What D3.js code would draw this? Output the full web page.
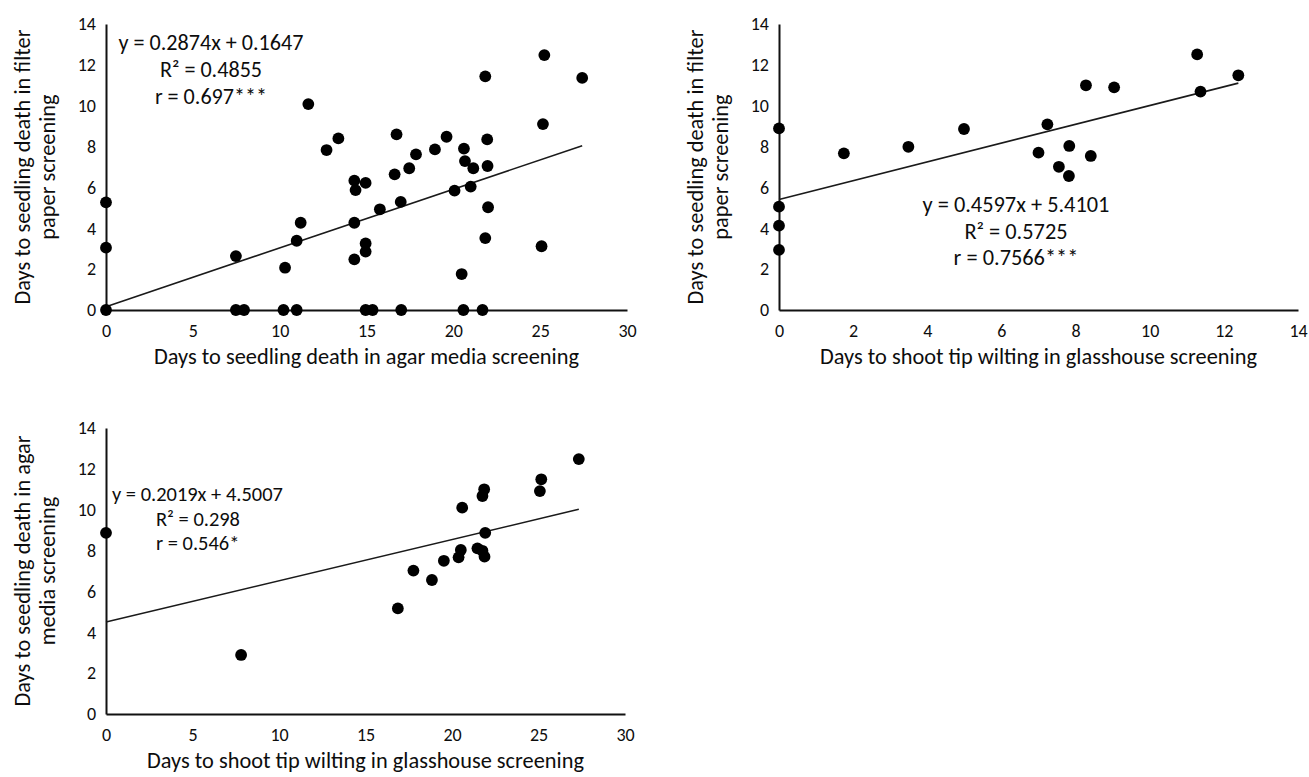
<!DOCTYPE html>
<html lang="en">
<head>
<meta charset="utf-8">
<title>Screening correlations</title>
<script src="https://cdn.jsdelivr.net/npm/d3@7"></script>
<style>
  body { margin: 0; background: #fff; }
  svg text { font-family: Carlito, Calibri, Lato, sans-serif; fill: #0d0d0d; }
  .axis path { stroke: #111; stroke-width: 2; }
  .axis line { display: none; }
</style>
</head>
<body>
<svg id="chart" width="1309" height="777"></svg>
<script type="text/javascript">

//////////////////////////////////////
// data

// panel 1 : agar media (x) vs filter paper (y)
var agarDays1 = [0, 0, 0, 7.48, 7.48, 7.95, 10.31, 10.22, 10.98, 10.98, 11.21, 11.65, 12.7, 13.38,
  14.3, 14.37, 14.3, 14.3, 14.95, 14.95, 14.95, 14.95, 15.35, 15.77, 16.62, 16.73, 16.97, 17.0,
  17.46, 17.85, 18.94, 19.61, 20.07, 20.48, 20.58, 20.61, 20.67, 21.0, 21.15, 21.68, 21.84, 21.84,
  21.95, 21.97, 22.0, 25.08, 25.16, 25.24, 27.42];
var filterDays1 = [5.27, 3.05, 0, 2.64, 0, 0, 2.07, 0, 3.39, 0, 4.27, 10.08, 7.83, 8.4,
  6.33, 5.87, 4.27, 2.48, 6.22, 3.26, 2.86, 0, 0, 4.93, 6.64, 8.6, 5.29, 0,
  6.94, 7.62, 7.86, 8.48, 5.84, 1.76, 0, 7.9, 7.29, 6.04, 6.94, 0, 11.44, 3.52,
  8.35, 7.05, 5.03, 3.12, 9.1, 12.48, 11.36];

// panel 2 : glasshouse (x) vs filter paper (y)
var glassDays2 = [0, 0, 0, 0, 1.75, 3.49, 4.99, 7.0, 7.24, 7.55, 7.83, 7.82, 8.41, 8.28, 9.04, 11.28, 11.37, 12.39];
var filterDays2 = [8.89, 5.06, 4.13, 2.94, 7.67, 7.99, 8.86, 7.7, 9.09, 7.01, 8.03, 6.56, 7.54, 11.0, 10.9, 12.51, 10.69, 11.49];

// panel 3 : glasshouse (x) vs agar media (y)
var glassDays3 = [0, 7.81, 16.87, 17.77, 18.84, 19.53, 20.38, 20.51, 20.59, 21.47, 21.76, 21.88, 21.92, 21.76, 21.86, 25.08, 25.16, 27.33];
var agarDays3 = [8.87, 2.89, 5.17, 7.02, 6.56, 7.5, 7.67, 8.03, 10.1, 8.11, 7.99, 7.7, 8.87, 10.67, 11.0, 10.91, 11.49, 12.48];

// trend lines and their labels
var slopes = [0.2874, 0.4597, 0.2019];
var intercepts = [0.1647, 5.4101, 4.5007];
var eqLabels = [
  ["y = 0.2874x + 0.1647", "R\u00b2 = 0.4855", "r = 0.697***"],
  ["y = 0.4597x + 5.4101", "R\u00b2 = 0.5725", "r = 0.7566***"],
  ["y = 0.2019x + 4.5007", "R\u00b2 = 0.298", "r = 0.546*"]
];

// axes
var xMax = [30, 14, 30];
var xTicks = [[0, 5, 10, 15, 20, 25, 30], [0, 2, 4, 6, 8, 10, 12, 14], [0, 5, 10, 15, 20, 25, 30]];
var yTicks = [0, 2, 4, 6, 8, 10, 12, 14];
var xTitles = ["Days to seedling death in agar media screening",
  "Days to shoot tip wilting in glasshouse screening",
  "Days to shoot tip wilting in glasshouse screening"];
var yTitles = [["Days to seedling death in filter", "paper screening"],
  ["Days to seedling death in filter", "paper screening"],
  ["Days to seedling death in agar", "media screening"]];

//////////////////////////////////////
// panel placement (pixels)
var panels = [
  { left: 106, right: 627, top: 24, bottom: 310, lbl: { x: 211, y: 50, align: "middle", dy: 27, w: 185 } },
  { left: 779, right: 1298, top: 24, bottom: 310, lbl: { x: 1016, y: 212, align: "middle", dy: 26.5, w: 187 } },
  { left: 106, right: 625, top: 428, bottom: 714, lbl: { x: 112, y: 501, align: "start", indent: 44, dy: 24.5, w: 171 } }
];

var svg = d3.select("#chart");

// font size that makes a string span a given width (the Calibri
// original is narrower than the fallback font)
function fit_size(str, width) {
  var t = svg.append("text").style("font-size", "100px").text(str);
  var w = t.node().getComputedTextLength();
  t.remove();
  return 100 * width / w;
}
var titleSize = fit_size(xTitles[0], 425);

function draw_panel(i, xs, ys) {
  var p = panels[i];
  var x = d3.scaleLinear().domain([0, xMax[i]]).range([p.left, p.right]);
  var y = d3.scaleLinear().domain([0, 14]).range([p.bottom, p.top]);
  var g = svg.append("g");

  // axes, no tick marks
  g.append("g").attr("class", "axis")
    .attr("transform", "translate(0," + p.bottom + ")")
    .call(d3.axisBottom(x).tickValues(xTicks[i]).tickSize(0).tickPadding(14))
    .selectAll("text").style("font-size", "18px");
  g.append("g").attr("class", "axis")
    .attr("transform", "translate(" + p.left + ",0)")
    .call(d3.axisLeft(y).tickValues(yTicks).tickSize(0).tickPadding(10))
    .selectAll("text").style("font-size", "18px");

  // axis titles
  g.append("text")
    .attr("x", (p.left + p.right) / 2).attr("y", p.bottom + 54)
    .attr("text-anchor", "middle").style("font-size", titleSize + "px")
    .text(xTitles[i]);
  var cy = (p.top + p.bottom) / 2;
  yTitles[i].forEach(function(t, k) {
    var cx = p.left - 84 + k * 25;
    g.append("text")
      .attr("transform", "translate(" + cx + "," + cy + ") rotate(-90)")
      .attr("text-anchor", "middle").attr("dy", "0.35em")
      .style("font-size", titleSize + "px")
      .text(t);
  });

  // trend line from smallest to largest x
  var ext = d3.extent(xs);
  g.append("line")
    .attr("x1", x(ext[0])).attr("y1", y(slopes[i] * ext[0] + intercepts[i]))
    .attr("x2", x(ext[1])).attr("y2", y(slopes[i] * ext[1] + intercepts[i]))
    .attr("stroke", "#1a1a1a").attr("stroke-width", 1.6);

  // points
  g.selectAll("circle").data(xs).enter().append("circle")
    .attr("cx", function(d) { return x(d); })
    .attr("cy", function(d, k) { return y(ys[k]); })
    .attr("r", 5.9).attr("fill", "#000");

  // equation label
  var L = p.lbl;
  var eqSize = fit_size(eqLabels[i][0], L.w);
  eqLabels[i].forEach(function(t, k) {
    var lx = L.x + (L.indent && k > 0 ? L.indent : 0);
    g.append("text")
      .attr("x", lx).attr("y", L.y + k * L.dy)
      .attr("text-anchor", L.align).style("font-size", eqSize + "px")
      .text(t);
  });
}

draw_panel(0, agarDays1, filterDays1);
draw_panel(1, glassDays2, filterDays2);
draw_panel(2, glassDays3, agarDays3);

</script>
</body>
</html>
